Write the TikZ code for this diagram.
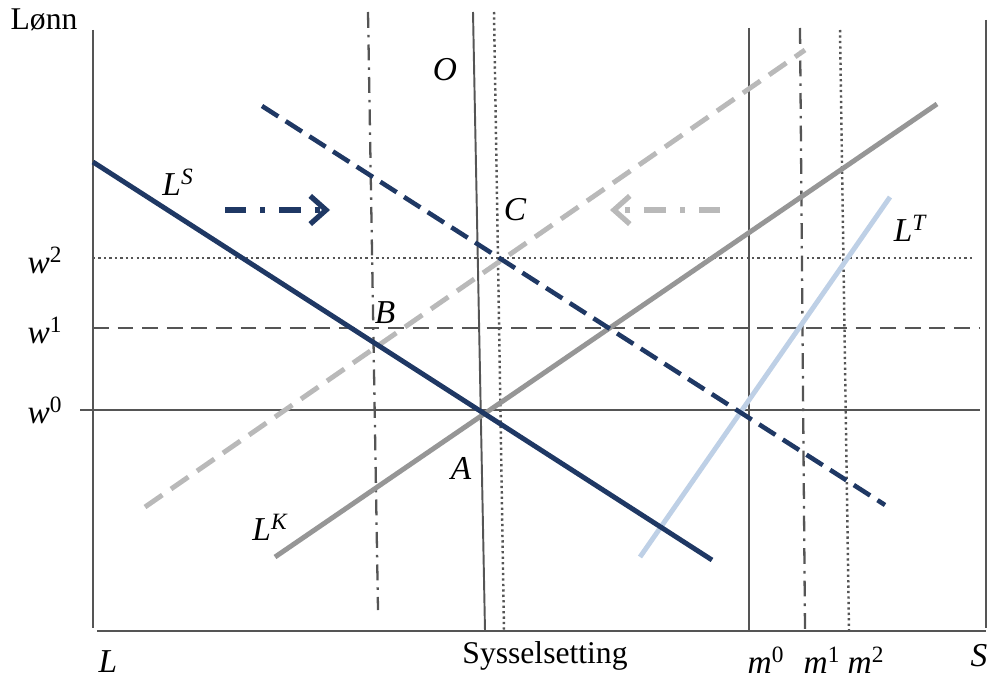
\documentclass[tikz,border=0pt]{standalone}
\usepackage{fontspec}
\setmainfont{Liberation Serif}
\usetikzlibrary{arrows.meta}
\definecolor{navyk}{RGB}{31, 56, 100}
\definecolor{axisk}{RGB}{85, 85, 85}
\definecolor{grayk}{RGB}{150, 150, 150}
\definecolor{lightgrayk}{RGB}{185, 185, 185}
\definecolor{bluek}{RGB}{190, 208, 230}
\begin{document}
\begin{tikzpicture}[x=0.02cm,y=-0.02cm,
    thinline/.style={draw=axisk,line width=0.9pt},
    dashdot/.style={thinline,line width=1.3pt,dash pattern=on 9pt off 4pt on 1.5pt off 4pt},
    dotline/.style={thinline,line width=1.4pt,dash pattern=on 1.3pt off 1.8pt},
    curve/.style={line width=2.8pt},
    lbl/.style={font=\fontsize{19}{21}\selectfont\itshape,inner sep=0pt},
    txt/.style={font=\fontsize{18}{20}\selectfont,inner sep=0pt}]
  \useasboundingbox (0,0) rectangle (989,679);
  % axes
  \draw[thinline,line width=1.3pt] (93,30) -- (93,628);
  \draw[thinline,line width=1.3pt] (97,631) -- (986,631);
  \draw[thinline,line width=1.3pt] (986,20) -- (986,628);
  % wage levels
  \draw[thinline] (80,410) -- (980,410);
  \draw[thinline,line width=1.1pt,dash pattern=on 9pt off 5pt] (93,328) -- (980,328);
  \draw[dotline] (93,258) -- (972,258);
  % vertical lines
  \draw[thinline,line width=1.1pt] (473,12) -- (485,631);
  \draw[dotline] (494,12) -- (504,631);
  \draw[dashdot] (368,12) -- (378,610);
  \draw[thinline,line width=1.1pt] (749,28) -- (749,631);
  \draw[dashdot] (800,28) -- (805,631);
  \draw[dotline] (840,30) -- (849,631);
  % curves
  \draw[curve,color=lightgrayk,dash pattern=on 12pt off 6pt] (145,507) -- (805,50);
  \draw[curve,color=grayk] (275,557) -- (937,104);
  \draw[curve,color=bluek] (640,557) -- (890,197);
  \draw[curve,color=navyk,line width=2.6pt,dash pattern=on 11pt off 5pt] (262,106) -- (885,505);
  \draw[curve,color=navyk] (93,162) -- (712,560);
  % shifts
  \draw[navyk,line width=3pt,dash pattern=on 12pt off 8pt on 3pt off 8pt,
        -{Straight Barb[length=9pt,width=16pt,line width=3pt]}] (225,210) -- (330,210);
  \draw[lightgrayk,line width=3pt,dash pattern=on 12pt off 8pt on 3pt off 8pt,
        -{Straight Barb[length=9pt,width=16pt,line width=3pt]}] (720,210) -- (610,210);
  % labels
  \node[txt] (lonn) at (44,20) {Lønn};
  \node[lbl] (ls) at (178,182) {L\textsuperscript{S}};
  \node[lbl] (lk) at (270,527) {L\textsuperscript{K}};
  \node[lbl] (lt) at (910,228) {L\textsuperscript{T}};
  \node[lbl] (o) at (445,70) {O};
  \node[lbl] (c) at (515,210) {C};
  \node[lbl] (b) at (385,313) {B};
  \node[lbl] (a) at (461,468) {A};
  \node[lbl] (w2) at (45,260) {w\textsuperscript{\upshape 2}};
  \node[lbl] (w1) at (45,330) {w\textsuperscript{\upshape 1}};
  \node[lbl] (w0) at (45,410) {w\textsuperscript{\upshape 0}};
  \node[lbl] (l) at (108,662) {L};
  \node[txt] (syss) at (545,656) {Sysselsetting};
  \node[lbl] (m0) at (766,660) {m\textsuperscript{\upshape 0}};
  \node[lbl] (m1) at (822,660) {m\textsuperscript{\upshape 1}};
  \node[lbl] (m2) at (866,660) {m\textsuperscript{\upshape 2}};
  \node[lbl] (s) at (979,656) {S};
\end{tikzpicture}
\end{document}
